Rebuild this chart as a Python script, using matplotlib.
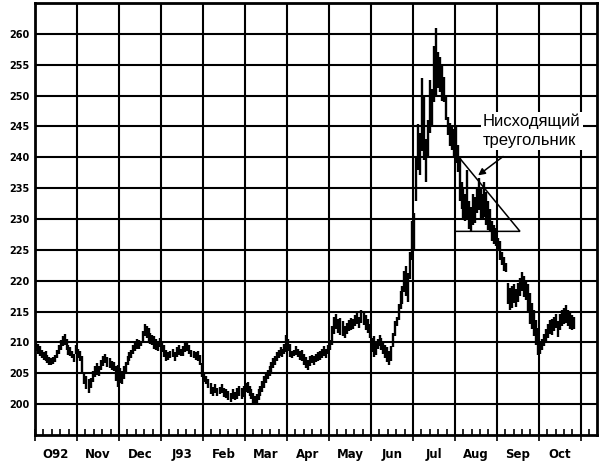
import matplotlib
matplotlib.use("Agg")
import matplotlib.pyplot as plt
from matplotlib.patches import Polygon

# months on the axis (Oct 1992 .. Oct 1993)
months = ['O92', 'Nov', 'Dec', 'J93', 'Feb', 'Mar', 'Apr', 'May', 'Jun', 'Jul', 'Aug', 'Sep', 'Oct']
trading_days = [22, 20, 22, 20, 19, 23, 21, 20, 22, 21, 22, 21, 21]

# daily highs, one list per month
highs = [
    [210.2, 209.8, 209.5, 208.8, 208.5, 208.6, 208.0, 207.6, 207.4, 207.6, 208.0,
     208.8, 209.6, 210.4, 211.0, 211.3, 210.6, 209.6, 209.2, 208.6, 208.2, 209.6],
    [209.0, 208.6, 207.8, 205.2, 204.6, 204.0, 204.2, 205.4, 206.2, 206.6,
     206.2, 207.2, 207.8, 208.2, 207.6, 207.4, 207.0, 206.8, 206.2, 206.4],
    [205.8, 205.4, 206.2, 206.8, 207.8, 208.4, 208.8, 209.6, 210.2, 210.6, 210.4,
     210.2, 211.8, 213.0, 212.6, 212.4, 211.6, 211.2, 211.0, 210.6, 210.2, 210.8],
    [210.2, 209.6, 208.8, 208.4, 208.6, 209.0, 208.4, 209.2, 209.6, 209.0,
     209.4, 210.0, 210.2, 209.6, 208.8, 208.6, 208.4, 208.6, 208.0, 206.6],
    [205.2, 204.6, 204.0, 203.4, 202.8, 203.2, 202.6, 202.8, 203.2, 202.6,
     202.4, 202.2, 201.8, 202.4, 202.0, 202.6, 203.0, 202.6, 203.0],
    [203.4, 203.6, 203.0, 202.4, 201.8, 201.4, 201.6, 202.4, 203.0, 203.8, 204.6, 205.2,
     205.6, 206.2, 206.8, 207.4, 207.8, 208.4, 208.8, 209.2, 209.0, 209.8, 211.2],
    [210.6, 209.8, 208.6, 208.8, 209.4, 209.0, 208.6, 208.8, 208.2, 207.6, 207.2,
     207.8, 208.0, 207.8, 208.2, 208.4, 208.6, 209.0, 209.4, 209.0, 209.6],
    [210.4, 212.6, 214.2, 214.6, 213.8, 214.0, 213.4, 212.6, 213.2, 213.6,
     214.0, 213.8, 214.4, 214.8, 214.2, 215.2, 215.0, 214.4, 213.8, 213.0],
    [210.8, 211.0, 210.2, 210.6, 211.2, 210.8, 210.2, 209.6, 209.2, 208.6, 209.4,
     211.6, 213.4, 214.2, 216.2, 218.4, 219.2, 221.6, 222.4, 221.2, 224.6, 229.6],
    [231.0, 240.0, 245.4, 244.0, 252.8, 250.0, 243.0, 246.0, 252.6, 251.0, 258.0,
     261.0, 257.0, 256.2, 255.0, 253.0, 250.0, 246.6, 245.6, 245.0, 244.6],
    [245.0, 242.0, 240.0, 236.0, 235.0, 234.0, 238.0, 233.0, 232.0, 234.0, 233.6,
     235.0, 236.6, 235.0, 234.0, 236.0, 234.4, 233.0, 231.6, 229.6, 229.0, 228.6],
    [227.0, 226.4, 224.6, 223.8, 222.8, 219.6, 218.8, 219.2, 219.4, 218.6, 219.6,
     220.4, 221.4, 220.8, 219.8, 219.4, 218.0, 216.4, 215.2, 213.6, 212.4],
    [210.0, 210.6, 211.4, 212.2, 213.0, 213.6, 213.8, 214.2, 214.6,
     213.4, 214.6, 215.2, 215.6, 216.0, 215.2, 214.8, 214.4, 214.2],
]

# daily lows, one list per month
lows = [
    [208.6, 208.2, 207.8, 207.4, 207.2, 207.0, 206.6, 206.4, 206.3, 206.5, 206.8,
     207.4, 208.2, 208.8, 209.4, 209.6, 208.8, 208.0, 207.8, 207.4, 206.8, 208.2],
    [207.4, 207.0, 205.0, 203.2, 202.4, 201.8, 202.6, 203.6, 204.4, 204.8,
     204.6, 205.6, 206.2, 206.6, 206.0, 205.8, 205.6, 205.4, 203.8, 202.8],
    [203.4, 203.2, 204.0, 205.0, 206.4, 207.0, 207.4, 208.2, 208.6, 209.0, 209.0,
     209.4, 210.2, 211.0, 210.8, 210.2, 209.8, 209.6, 209.0, 208.8, 208.6, 209.2],
    [208.4, 207.6, 207.0, 207.2, 207.4, 207.6, 207.0, 207.6, 208.0, 207.8,
     207.8, 208.4, 208.6, 208.2, 207.6, 207.4, 207.2, 207.0, 206.4, 204.4],
    [203.6, 203.2, 202.6, 201.6, 201.4, 201.8, 201.4, 201.6, 201.8, 201.2,
     201.0, 200.6, 200.4, 200.8, 200.6, 200.8, 201.4, 200.8, 201.2],
    [202.0, 201.8, 201.4, 200.8, 200.2, 199.9, 200.2, 200.6, 201.4, 202.0, 202.6, 203.4,
     204.0, 204.6, 205.2, 205.8, 206.4, 207.0, 207.4, 207.8, 207.6, 208.2, 208.4],
    [208.6, 207.6, 207.4, 207.8, 208.0, 207.6, 207.2, 207.0, 206.4, 205.8, 205.6,
     206.2, 206.6, 206.4, 206.8, 207.0, 207.2, 207.4, 207.8, 207.4, 208.2],
    [208.8, 209.6, 211.4, 212.2, 211.6, 211.2, 211.0, 210.8, 211.4, 211.8,
     212.0, 212.2, 212.6, 213.0, 212.4, 213.2, 212.8, 212.0, 211.6, 210.8],
    [208.4, 207.6, 208.0, 209.0, 209.4, 208.8, 208.2, 207.4, 206.8, 206.4, 207.0,
     209.2, 211.0, 212.6, 213.6, 215.4, 216.2, 218.2, 217.6, 216.6, 220.2, 223.4],
    [225.0, 233.0, 238.0, 237.2, 241.0, 239.6, 236.0, 240.0, 244.0, 245.0, 249.0,
     250.0, 251.2, 250.6, 249.2, 249.0, 246.0, 243.6, 241.8, 241.2, 240.0],
    [239.0, 237.6, 233.0, 231.6, 230.0, 229.6, 230.0, 228.4, 228.0, 229.0, 229.4,
     231.0, 231.4, 230.2, 230.0, 230.4, 229.0, 228.2, 228.0, 226.4, 226.0, 225.6],
    [224.8, 223.4, 222.6, 221.6, 221.4, 216.2, 215.2, 215.6, 216.4, 215.8, 216.6,
     217.6, 218.4, 217.4, 216.8, 214.8, 213.0, 212.2, 211.0, 209.6, 207.9],
    [208.2, 208.8, 209.4, 210.2, 210.8, 211.4, 211.2, 211.8, 212.4,
     210.9, 212.0, 212.6, 213.0, 213.2, 212.6, 212.2, 212.0, 212.2],
]

price_ticks = [200, 205, 210, 215, 220, 225, 230, 235, 240, 245, 250, 255, 260]

# descending triangle drawn on the chart (month units, price)
tri_x = [10.0, 10.0, 11.55]
tri_y = [240.8, 228.0, 228.0]
label = 'Нисходящий\nтреугольник'

fig = plt.figure(figsize=(6.09, 4.65), dpi=100)
ax = fig.add_axes([0.0575, 0.0645, 0.9225, 0.929])

xs, his, los = [], [], []
for i, (hh, ll) in enumerate(zip(highs, lows)):
    for j, (h, l) in enumerate(zip(hh, ll)):
        xs.append(i + (j + 0.5) / trading_days[i])
        his.append(h)
        los.append(l)
ax.vlines(xs, los, his, color='black', lw=1.7, zorder=3)

ax.set_xlim(0, 13.38)
ax.set_ylim(195, 265)

# grid
for p in price_ticks:
    ax.axhline(p, color='black', lw=1.5, zorder=1)
for m in range(1, 14):
    ax.axvline(m, color='black', lw=1.5, zorder=1)

for s in ax.spines.values():
    s.set_linewidth(2)

ax.set_yticks(price_ticks)
ax.set_yticklabels([str(p) for p in price_ticks], fontsize=7, fontweight='bold')
ax.tick_params(axis='y', length=0, pad=4)

ax.set_xticks(range(0, 14))
ax.set_xticklabels([])
ax.set_xticks([m + f for m in range(14) for f in (0.2, 0.4, 0.6, 0.8) if m + f < 13.38], minor=True)
ax.tick_params(axis='x', which='major', direction='inout', length=9, width=1.2)
ax.tick_params(axis='x', which='minor', direction='in', length=4, width=1.2)
for i, name in enumerate(months):
    ax.text(i + 0.5, -0.03, name, transform=ax.get_xaxis_transform(),
            ha='center', va='top', fontsize=8.5, fontweight='bold')

ax.add_patch(Polygon(list(zip(tri_x, tri_y)), closed=True, fill=False,
                     edgecolor='black', lw=1.1, zorder=4))

ax.text(10.67, 244.3, label, ha='left', va='center', fontsize=12,
        family='Liberation Sans', linespacing=1.3, zorder=5,
        bbox=dict(facecolor='white', edgecolor='none', pad=1.5))
ax.annotate('', xy=(10.5, 236.8), xytext=(11.2, 240.4),
            arrowprops=dict(arrowstyle='-|>', color='black', lw=1.1,
                            mutation_scale=10), zorder=5)

fig.savefig('out.png', dpi=100)
